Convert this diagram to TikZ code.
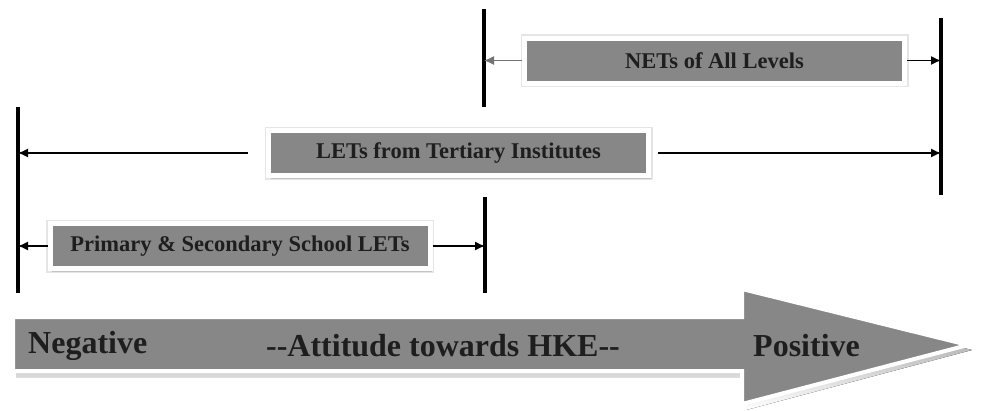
\documentclass[tikz,border=0pt]{standalone}
\usepackage{fontspec}
\setmainfont{Liberation Serif}[BoldFont={Liberation Serif Bold}]
\usetikzlibrary{arrows.meta,shadows}
\definecolor{boxgray}{RGB}{135,135,135}
\definecolor{txt}{RGB}{30,30,30}
\definecolor{shade}{RGB}{195,195,195}
\begin{document}
\begin{tikzpicture}[x=1pt,y=-1pt,
  bar/.style={line width=4pt,black},
  lbox/.style={fill=boxgray,draw=white,line width=5pt,minimum height=45pt,
    minimum width=380pt,inner sep=0pt,text=txt,font=\bfseries\fontsize{22.5}{24}\selectfont,
    preaction={draw=black!10,line width=8pt},
    drop shadow={shadow xshift=2pt,shadow yshift=-3pt,fill=shade,opacity=1}},
  conn/.style={-{Latex[length=10pt,width=9pt]},line width=1.3pt,black},
  bigtxt/.style={text=txt,font=\bfseries\fontsize{32}{34}\selectfont,inner sep=0pt}]
\useasboundingbox (0,0) rectangle (986,410);
% bars
\coordinate (Lt) at (18,107); \coordinate (Lb) at (18,293);
\coordinate (M1t) at (484,9); \coordinate (M1b) at (484,107);
\coordinate (M2t) at (485,197); \coordinate (M2b) at (485,293);
\coordinate (Rt) at (941,18); \coordinate (Rb) at (941,195);
\draw[bar] (Lt) -- (Lb);
\draw[bar] (M1t) -- (M1b);
\draw[bar] (M2t) -- (M2b);
\draw[bar] (Rt) -- (Rb);
% boxes
\node[lbox] (net) at (714.5,60.5) {NETs of All Levels};
\node[lbox] (lets) at (458.5,153) {LETs from Tertiary Institutes};
\node[lbox] (prim) at (240,246) {Primary \& Secondary School LETs};
% connectors
\draw[conn,black!55] (net.west) -- (net.west -| M1t);
\draw[conn] (net.east) -- (net.east -| Rt);
\draw[conn] ([xshift=-18pt]lets.west) -- (lets.west -| Lt);
\draw[conn] ([xshift=7pt]lets.east) -- (lets.east -| Rt);
\draw[conn] (prim.west) -- (prim.west -| Lt);
\draw[conn] (prim.east) -- (prim.east -| M2t);
% big arrow
\fill[shade] (16,322) -- (746,322) -- (746,294) -- (972,350) -- (746,410) -- (746,377) -- (16,377) -- cycle;
\draw[fill=boxgray,draw=white,line width=4pt,line join=miter]
  (13,317) -- (742,317) -- (742,289) -- (968,345) -- (742,404) -- (742,371) -- (13,371) -- cycle;
\node[bigtxt,anchor=west] (neg) at (28,346) {Negative};
\node[bigtxt] (att) at (443,346) {-{}-Attitude towards HKE-{}-};
\node[bigtxt,anchor=west] (pos) at (753,346) {Positive};
\end{tikzpicture}
\end{document}
